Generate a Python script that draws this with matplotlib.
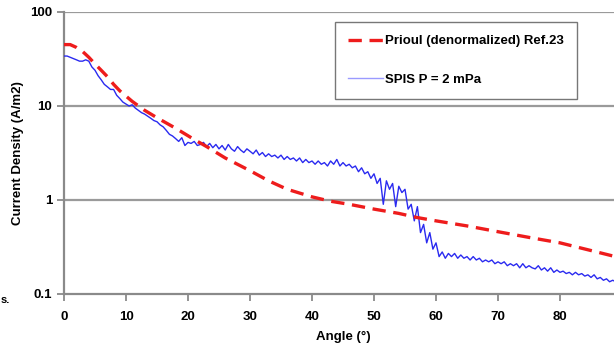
import matplotlib
matplotlib.use("Agg")
import matplotlib.pyplot as plt
from matplotlib.lines import Line2D

# Prioul (denormalized) Ref.23
prioul_angle = [0, 1, 2, 3, 4, 5, 6, 7, 8, 9, 11, 13, 15, 18, 21, 23, 26, 30, 33, 36,
                40, 43, 46, 50, 54, 57, 60, 65, 70, 75, 80, 85, 90]
prioul_j = [45, 45, 42, 38, 33, 28, 24, 20.5, 17, 14.5, 11.2, 9, 7.5, 5.8, 4.4, 3.7, 2.8,
            2.05, 1.6, 1.3, 1.08, 0.97, 0.9, 0.8, 0.72, 0.65, 0.6, 0.53, 0.46, 0.4, 0.35,
            0.29, 0.24]

# SPIS P = 2 mPa (every 0.5 deg)
spis_j = [34, 34, 33, 32, 31, 30, 30, 31, 30, 26, 24, 21, 19, 17, 16, 15, 15, 13, 12, 11,
          10.5, 10, 10.3, 9.5, 9, 8.5, 8.2, 7.8, 7.4, 7.0, 6.8, 6.3, 6.0, 5.5, 5.0, 4.8, 4.5,
          4.2, 4.6, 3.8, 4.1, 4.0, 4.2, 3.8, 3.9, 4.1, 3.7, 4.0, 3.6, 3.9, 3.5, 3.8, 3.4, 3.9,
          3.5, 3.3, 3.7, 3.4, 3.2, 3.5, 3.3, 3.1, 3.4, 3.0, 3.2, 2.9, 3.1, 2.9, 3.0, 2.8, 3.0,
          2.7, 2.9, 2.7, 2.8, 2.6, 2.8, 2.5, 2.7, 2.5, 2.6, 2.4, 2.6, 2.4, 2.5, 2.3, 2.6, 2.4,
          2.7, 2.3, 2.5, 2.3, 2.4, 2.2, 2.3, 2.0, 2.2, 1.9, 2.0, 1.7, 1.9, 1.5, 1.7, 0.9, 1.6,
          1.3, 1.5, 0.85, 1.4, 1.2, 1.3, 0.8, 0.9, 0.6, 0.85, 0.45, 0.55, 0.35, 0.45, 0.3,
          0.35, 0.25, 0.28, 0.24, 0.27, 0.25, 0.27, 0.24, 0.26, 0.24, 0.25, 0.23, 0.25, 0.23,
          0.24, 0.22, 0.23, 0.22, 0.23, 0.21, 0.22, 0.21, 0.22, 0.20, 0.21, 0.20, 0.21, 0.19,
          0.21, 0.19, 0.20, 0.19, 0.185, 0.2, 0.18, 0.19, 0.175, 0.19, 0.17, 0.18, 0.17, 0.175,
          0.165, 0.17, 0.16, 0.17, 0.16, 0.165, 0.155, 0.16, 0.15, 0.16, 0.145, 0.15, 0.14,
          0.145, 0.135, 0.14, 0.135]
spis_angle = [i * 0.5 for i in range(len(spis_j))]

x_ticks = [0, 10, 20, 30, 40, 50, 60, 70, 80, 90]
y_ticks = [0.1, 1, 10, 100]
y_tick_labels = ["0.1", "1", "10", "100"]

plt.rcParams['font.family'] = ['Liberation Sans', 'DejaVu Sans']

W, H = 614, 352
fig = plt.figure(figsize=(W / 100, H / 100), dpi=100)
left, right, top, bottom = 64, 622, 12, 294
ax = fig.add_axes([left / W, 1 - bottom / H, (right - left) / W, (bottom - top) / H])

ax.plot(spis_angle, spis_j, color='#2a2af0', lw=1.0, zorder=3)
ax.plot(prioul_angle, prioul_j, color='#ee1c1c', lw=2.4, dashes=(4.0, 2.3), zorder=4)

ax.set_yscale('log')
ax.set_xlim(0, 90)
ax.set_ylim(0.1, 100)
ax.set_xticks(x_ticks)
ax.set_yticks(y_ticks)
ax.set_yticklabels(y_tick_labels)
ax.minorticks_off()

for v in [1, 10, 100]:
    ax.axhline(v, color='#9a9a9a', lw=1.6, zorder=1)

for s in ['top', 'right']:
    ax.spines[s].set_visible(False)
for s in ['left', 'bottom']:
    ax.spines[s].set_color('#8a8a8a')
    ax.spines[s].set_linewidth(1.6)

ax.tick_params(axis='both', colors='#8a8a8a', width=1.3, length=5, direction='out',
               labelcolor='black', labelsize=9.5)
for lab in ax.get_xticklabels() + ax.get_yticklabels():
    lab.set_fontweight('bold')
ax.tick_params(axis='x', pad=7)

ax.set_xlabel('Angle (°)', fontsize=9.5, fontweight='bold', labelpad=6)
fig.text(18 / W, 1 - 153 / H, 'Current Density (A/m2)', rotation=90, fontsize=9.5,
         fontweight='bold', ha='center', va='center')
fig.text(1 / W, 1 - 300 / H, 's.', fontsize=8, fontweight='bold', ha='left', va='center')

handles = [Line2D([], [], color='#ee1c1c', lw=2.4, dashes=(4.0, 2.3)),
           Line2D([], [], color='#9a9aff', lw=1.0)]
leg = ax.legend(handles, ['Prioul (denormalized) Ref.23', 'SPIS P = 2 mPa'],
                loc='upper left', bbox_to_anchor=(335 / W, 1 - 22 / H),
                bbox_transform=fig.transFigure, fancybox=False, framealpha=1,
                edgecolor='#777777', prop={'weight': 'bold', 'size': 9.5},
                labelspacing=2.0, handlelength=2.6, handletextpad=0.2,
                borderpad=1.0, borderaxespad=0)
leg.get_frame().set_linewidth(1.0)

fig.savefig('out.png', dpi=100)
